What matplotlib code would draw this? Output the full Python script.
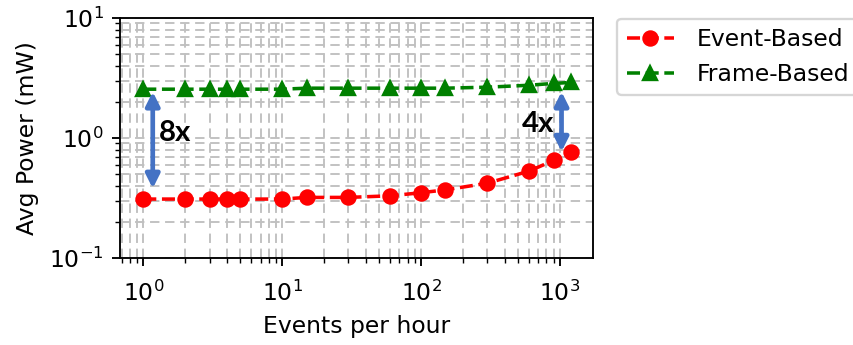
import matplotlib
matplotlib.use("Agg")
import matplotlib.pyplot as plt

events = [1, 2, 3, 4, 5, 10, 15, 30, 60, 100, 150, 300, 600, 900, 1200]
event_based = [0.31, 0.31, 0.31, 0.31, 0.31, 0.31, 0.32, 0.32, 0.33, 0.35, 0.37, 0.42, 0.53, 0.65, 0.76]
frame_based = [2.55, 2.55, 2.55, 2.55, 2.55, 2.55, 2.6, 2.6, 2.6, 2.6, 2.6, 2.65, 2.75, 2.85, 2.9]

dpi = 169
fig = plt.figure(figsize=(853 / dpi, 345 / dpi), dpi=dpi)
ax = fig.add_axes([0.1407, 0.252, 0.554, 0.696])

ax.plot(events, event_based, 'o--', color='red', markersize=6, label='Event-Based')
ax.plot(events, frame_based, '^--', color='green', markersize=6, label='Frame-Based')
ax.set_xscale('log')
ax.set_yscale('log')
ax.set_ylim(0.1, 10)
ax.set_xlim(0.68, 1720)
ax.grid(True, which='both', linestyle=(0, (5, 3)), color='#c0c0c0', linewidth=0.8)
ax.tick_params(axis='x', which='major', pad=6)
ax.set_xlabel('Events per hour', labelpad=4)
ax.set_ylabel('Avg Power (mW)')

blue = '#4472C4'
ax.annotate('', xy=(1.17, 0.38), xytext=(1.17, 2.43),
            arrowprops=dict(arrowstyle='<|-|>', color=blue, lw=2.0, mutation_scale=12,
                            shrinkA=0, shrinkB=0))
ax.text(1.3, 1.1, '8x', fontsize=12.5, fontweight='bold', family='Lato', va='center', ha='left')
ax.annotate('', xy=(1028, 0.77), xytext=(1028, 2.43),
            arrowprops=dict(arrowstyle='<|-|>', color=blue, lw=2.0, mutation_scale=12,
                            shrinkA=0, shrinkB=0))
ax.text(910, 1.31, '4x', fontsize=12.5, fontweight='bold', family='Lato', va='center', ha='right')

fig.legend(loc='upper left', bbox_to_anchor=(0.71, 0.98), fontsize=10, handletextpad=1.0)

fig.savefig('out.png', dpi=dpi)
